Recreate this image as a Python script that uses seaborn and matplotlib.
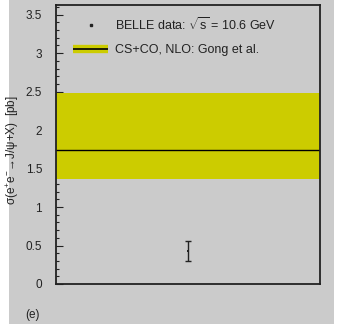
import matplotlib
matplotlib.use("Agg")
import matplotlib.pyplot as plt
import seaborn as sns
import numpy as np
import pandas as pd
from matplotlib.patches import Rectangle
from matplotlib.lines import Line2D
from matplotlib.legend_handler import HandlerTuple

# data
belle_x = [0.5]
belle_y = [0.43]
belle_err = [0.13]
theory_central = 1.74
theory_low = 1.36
theory_high = 2.48
yticks = [0, 0.5, 1, 1.5, 2, 2.5, 3, 3.5]
ytick_labels = ["0", "0.5", "1", "1.5", "2", "2.5", "3", "3.5"]

sns.set_style("ticks")
plt.rcParams['font.family'] = ['Liberation Sans', 'DejaVu Sans']
plt.rcParams['mathtext.fontset'] = 'custom'
plt.rcParams['mathtext.rm'] = 'Liberation Sans'
plt.rcParams['mathtext.it'] = 'Liberation Sans'

BG = "#cbcbcb"
BAND = "#cccc00"

fig = plt.figure(figsize=(3.37, 3.32), dpi=100)
fig.patch.set_facecolor("white")
fig.patches.append(Rectangle((9/337, 8/332), 325/337, 324/332, transform=fig.transFigure,
                             facecolor=BG, edgecolor="none", zorder=-10))
ax = fig.add_axes([56/337, 48/332, 264/337, 279.3/332])
ax.set_facecolor(BG)

ax.axhspan(theory_low, theory_high, color=BAND, lw=0, zorder=1)
ax.axhline(theory_central, color="black", lw=1.0, zorder=2)

df = pd.DataFrame({"x": belle_x, "y": belle_y})
ax.errorbar(belle_x, belle_y, yerr=belle_err, fmt="none", ecolor="#222222",
            elinewidth=1.0, capsize=2.5, capthick=1.0, zorder=3)
sns.scatterplot(data=df, x="x", y="y", ax=ax, color="#222222", s=4, marker="s",
                linewidth=0, zorder=4)

ax.set_xlim(0, 1)
ax.set_ylim(0, 3.63)
ax.set_xticks([])
ax.set_xlabel("")
ax.set_yticks(yticks)
ax.set_yticklabels(ytick_labels)
ax.set_yticks(np.arange(0, 3.61, 0.1), minor=True)
ax.tick_params(axis="y", which="major", direction="in", length=5, width=0.8,
               labelsize=8.5, pad=10, colors="#222222")
ax.tick_params(axis="y", which="minor", direction="in", length=2.5, width=0.8,
               colors="#222222")
for s in ax.spines.values():
    s.set_visible(True)
    s.set_linewidth(1.3)
    s.set_color("#222222")

ax.set_ylabel(r"σ(e$^{+}$e$^{-}$→J/ψ+X)  [pb]", fontsize=8.5, color="#222222")
ax.yaxis.set_label_coords(-0.132, 0.48)

h_data = Line2D([], [], marker="s", markersize=1.8, color="#222222", lw=0)
h_band = Line2D([], [], color=BAND, lw=6, solid_capstyle="butt")
h_line = Line2D([], [], color="black", lw=1.2, solid_capstyle="butt")
leg = ax.legend([h_data, (h_band, h_line)],
                [r"BELLE data: $\sqrt{s}$ = 10.6 GeV", "CS+CO, NLO: Gong et al."],
                handler_map={tuple: HandlerTuple(ndivide=1, pad=0)},
                loc="upper left", frameon=False, fontsize=9, handlelength=2.8,
                handletextpad=0.56, labelspacing=0.9,
                bbox_to_anchor=(0.023, 1.0), borderaxespad=0.5)
for t in leg.get_texts():
    t.set_color("#222222")

fig.text(33/337, 1 - 315/332, "(e)", fontsize=8.5, color="#222222",
         ha="center", va="center")

fig.savefig("out.png", dpi=100, facecolor=fig.get_facecolor())
